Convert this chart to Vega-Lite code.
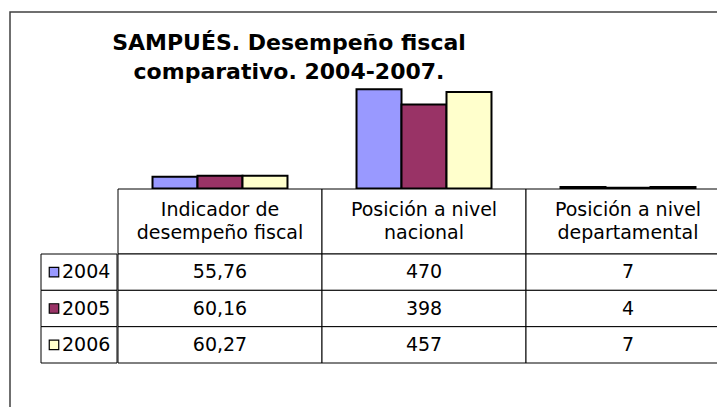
{
  "$schema": "https://vega.github.io/schema/vega-lite/v6.json",
  "width": 720,
  "height": 400,
  "autosize": {"type": "none"},
  "padding": {"left": 10, "top": 12, "right": 0, "bottom": 0},
  "background": "white",
  "config": {
    "view": {"stroke": "#404040", "strokeWidth": 1.5},
    "locale": {"number": {"decimal": ",", "thousands": ".", "grouping": [3], "currency": ["$", ""]}},
    "text": {"font": "DejaVu Sans", "fontSize": 19, "color": "black"}
  },
  "title": {
    "text": ["SAMPUÉS. Desempeño fiscal", "comparativo. 2004-2007."],
    "anchor": "start", "align": "center", "dx": 279, "offset": -89, "baseline": "alphabetic",
    "font": "DejaVu Sans", "fontSize": 22, "fontWeight": "bold", "lineHeight": 29, "color": "black"
  },
  "datasets": {
    "vals": [
      {"cat": "Indicador de\ndesempeño fiscal", "year": "2004", "value": 55.76},
      {"cat": "Indicador de\ndesempeño fiscal", "year": "2005", "value": 60.16},
      {"cat": "Indicador de\ndesempeño fiscal", "year": "2006", "value": 60.27},
      {"cat": "Posición a nivel\nnacional", "year": "2004", "value": 470},
      {"cat": "Posición a nivel\nnacional", "year": "2005", "value": 398},
      {"cat": "Posición a nivel\nnacional", "year": "2006", "value": 457},
      {"cat": "Posición a nivel\ndepartamental", "year": "2004", "value": 7},
      {"cat": "Posición a nivel\ndepartamental", "year": "2005", "value": 4},
      {"cat": "Posición a nivel\ndepartamental", "year": "2006", "value": 7}
    ]
  },
  "resolve": {"scale": {"x": "independent", "y": "independent"}},
  "layer": [
    {
      "data": {"name": "vals"},
      "mark": {"type": "bar", "stroke": "black", "strokeWidth": 2},
      "encoding": {
        "x": {"field": "cat", "type": "nominal", "axis": null,
              "scale": {"domain": ["Indicador de\ndesempeño fiscal", "Posición a nivel\nnacional", "Posición a nivel\ndepartamental"], "range": [108, 720], "paddingInner": 0, "paddingOuter": 0}},
        "xOffset": {"field": "year", "type": "nominal", "scale": {"domain": ["2004", "2005", "2006"], "paddingInner": 0, "paddingOuter": 0.767}},
        "y": {"field": "value", "type": "quantitative", "axis": null,
              "scale": {"domain": [0, 500], "range": [176.5, 71], "nice": false}},
        "color": {"field": "year", "type": "nominal", "legend": null,
                  "scale": {"domain": ["2004", "2005", "2006"], "range": ["#9999FF", "#993366", "#FFFFCC"]}}
      }
    },
    {
      "data": {"name": "vals"},
      "transform": [{"filter": "datum.year == '2004'"}],
      "mark": {"type": "rect", "fill": "white", "stroke": "black", "strokeWidth": 1},
      "encoding": {
        "x": {"field": "cat", "type": "nominal", "axis": null,
              "scale": {"domain": ["Indicador de\ndesempeño fiscal", "Posición a nivel\nnacional", "Posición a nivel\ndepartamental"], "range": [108, 720], "paddingInner": 0, "paddingOuter": 0}},
        "y": {"datum": "header", "type": "nominal", "axis": null,
              "scale": {"domain": ["header"], "range": [177, 242], "paddingInner": 0, "paddingOuter": 0}}
      }
    },
    {
      "data": {"name": "vals"},
      "transform": [{"filter": "datum.year == '2004'"}],
      "mark": {"type": "text", "lineBreak": "\n", "lineHeight": 23, "align": "center", "baseline": "middle", "dy": -11.5},
      "encoding": {
        "x": {"field": "cat", "type": "nominal", "axis": null,
              "scale": {"domain": ["Indicador de\ndesempeño fiscal", "Posición a nivel\nnacional", "Posición a nivel\ndepartamental"], "range": [108, 720], "paddingInner": 0, "paddingOuter": 0}},
        "y": {"datum": "header", "type": "nominal", "axis": null,
              "scale": {"domain": ["header"], "range": [177, 242], "paddingInner": 0, "paddingOuter": 0}},
        "text": {"field": "cat"}
      }
    },
    {
      "data": {"name": "vals"},
      "mark": {"type": "rect", "fill": "white", "stroke": "black", "strokeWidth": 1},
      "encoding": {
        "x": {"field": "cat", "type": "nominal", "axis": null,
              "scale": {"domain": ["Indicador de\ndesempeño fiscal", "Posición a nivel\nnacional", "Posición a nivel\ndepartamental"], "range": [108, 720], "paddingInner": 0, "paddingOuter": 0}},
        "y": {"field": "year", "type": "nominal", "axis": null,
              "scale": {"domain": ["2004", "2005", "2006"], "range": [242, 351], "paddingInner": 0, "paddingOuter": 0}}
      }
    },
    {
      "data": {"name": "vals"},
      "mark": {"type": "text", "align": "center", "baseline": "middle"},
      "encoding": {
        "x": {"field": "cat", "type": "nominal", "axis": null,
              "scale": {"domain": ["Indicador de\ndesempeño fiscal", "Posición a nivel\nnacional", "Posición a nivel\ndepartamental"], "range": [108, 720], "paddingInner": 0, "paddingOuter": 0}},
        "y": {"field": "year", "type": "nominal", "axis": null,
              "scale": {"domain": ["2004", "2005", "2006"], "range": [242, 351], "paddingInner": 0, "paddingOuter": 0}},
        "text": {"field": "value", "type": "quantitative", "format": "~f"}
      }
    },
    {
      "data": {"name": "vals"},
      "transform": [{"filter": "datum.value < 100"}, {"filter": "datum.value > 50"}],
      "mark": {"type": "rect", "fill": "white", "stroke": "black", "strokeWidth": 1},
      "encoding": {
        "x": {"datum": "serie", "type": "nominal", "axis": null,
              "scale": {"domain": ["serie"], "range": [31, 107], "paddingInner": 0, "paddingOuter": 0}},
        "y": {"field": "year", "type": "nominal", "axis": null,
              "scale": {"domain": ["2004", "2005", "2006"], "range": [242, 351], "paddingInner": 0, "paddingOuter": 0}}
      }
    },
    {
      "data": {"name": "vals"},
      "transform": [{"filter": "datum.value < 100"}, {"filter": "datum.value > 50"}],
      "mark": {"type": "point", "shape": "square", "size": 90, "filled": true, "opacity": 1, "stroke": "black", "strokeWidth": 1.2, "xOffset": -25},
      "encoding": {
        "x": {"datum": "serie", "type": "nominal", "axis": null,
              "scale": {"domain": ["serie"], "range": [31, 107], "paddingInner": 0, "paddingOuter": 0}},
        "y": {"field": "year", "type": "nominal", "axis": null,
              "scale": {"domain": ["2004", "2005", "2006"], "range": [242, 351], "paddingInner": 0, "paddingOuter": 0}},
        "color": {"field": "year", "type": "nominal", "legend": null,
                  "scale": {"domain": ["2004", "2005", "2006"], "range": ["#9999FF", "#993366", "#FFFFCC"]}}
      }
    },
    {
      "data": {"name": "vals"},
      "transform": [{"filter": "datum.value < 100"}, {"filter": "datum.value > 50"}],
      "mark": {"type": "text", "align": "left", "baseline": "middle", "dx": -17},
      "encoding": {
        "x": {"datum": "serie", "type": "nominal", "axis": null,
              "scale": {"domain": ["serie"], "range": [31, 107], "paddingInner": 0, "paddingOuter": 0}},
        "y": {"field": "year", "type": "nominal", "axis": null,
              "scale": {"domain": ["2004", "2005", "2006"], "range": [242, 351], "paddingInner": 0, "paddingOuter": 0}},
        "text": {"field": "year"}
      }
    }
  ]
}
